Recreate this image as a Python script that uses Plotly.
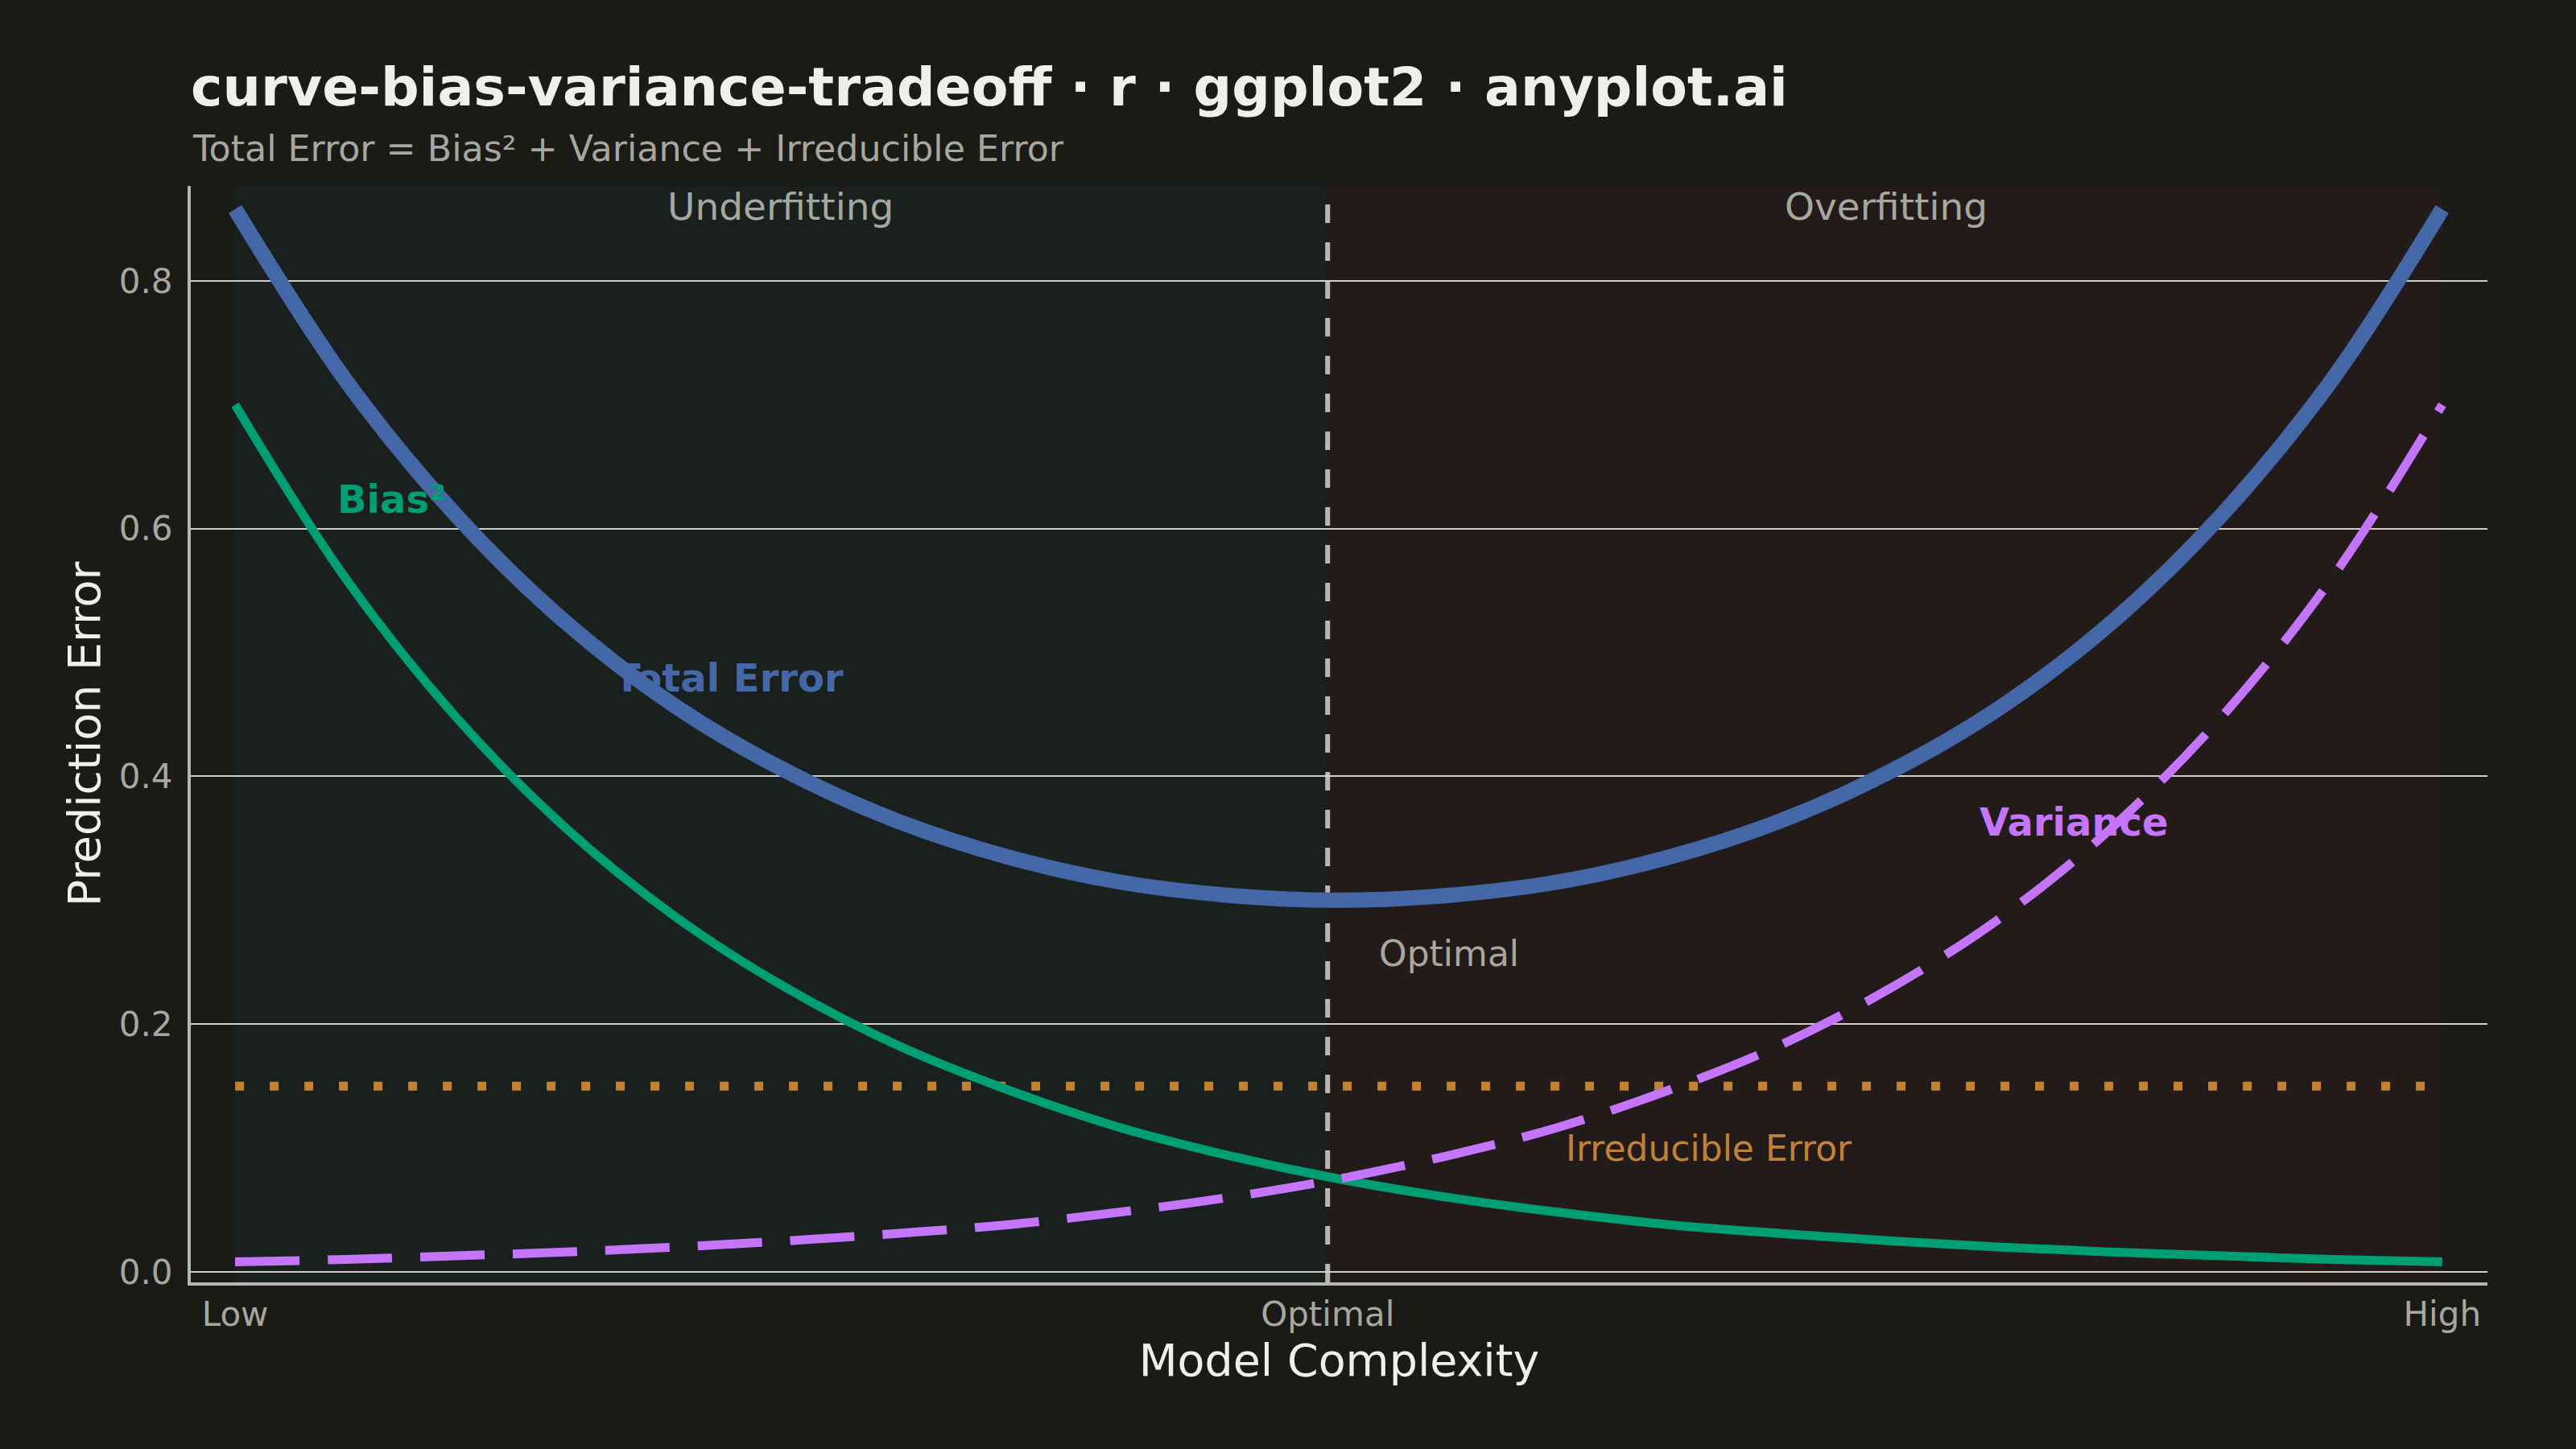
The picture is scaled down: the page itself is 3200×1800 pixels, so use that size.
import plotly.graph_objects as go

# model complexity, 0 = Low, 1 = High; the optimum sits just left of the middle
complexity = [0.00, 0.05, 0.10, 0.15, 0.20, 0.25, 0.30, 0.35, 0.40, 0.45, 0.50,
              0.55, 0.60, 0.65, 0.70, 0.75, 0.80, 0.85, 0.90, 0.95, 1.00]

bias_sq = [0.700, 0.560, 0.448, 0.358, 0.286, 0.229, 0.183, 0.147, 0.117, 0.094, 0.075,
           0.060, 0.048, 0.038, 0.031, 0.025, 0.020, 0.016, 0.013, 0.010, 0.008]

variance = [0.008, 0.010, 0.013, 0.016, 0.020, 0.025, 0.031, 0.038, 0.048, 0.060, 0.075,
            0.094, 0.117, 0.147, 0.183, 0.229, 0.286, 0.358, 0.448, 0.560, 0.700]

total_error = [0.858, 0.720, 0.611, 0.524, 0.456, 0.404, 0.364, 0.335, 0.315, 0.304, 0.300,
               0.304, 0.315, 0.335, 0.364, 0.404, 0.456, 0.524, 0.611, 0.720, 0.858]

irr_x = [0.0, 1.0]
irr_y = [0.15, 0.15]

optimal_x = 0.495

tick_vals = [0.0, optimal_x, 1.0]
tick_text = ["Low", "Optimal", "High"]

BG = "#1A1A17"
INK = "#F0EFE8"
INK_SOFT = "#A8A79F"
BLUE = "#4467A8"
GREEN = "#009E73"
PURPLE = "#C475FB"
ORANGE = "#C28236"
FONT = "DejaVu Sans"

fig = go.Figure()

fig.add_trace(go.Scatter(x=irr_x, y=irr_y, mode="lines",
                         line=dict(color=ORANGE, width=11, dash="11px,32px")))
fig.add_trace(go.Scatter(x=complexity, y=bias_sq, mode="lines",
                         line=dict(color=GREEN, width=11, shape="spline")))
fig.add_trace(go.Scatter(x=complexity, y=variance, mode="lines",
                         line=dict(color=PURPLE, width=11, shape="spline", dash="80px,35px")))
fig.add_trace(go.Scatter(x=complexity, y=total_error, mode="lines",
                         line=dict(color=BLUE, width=19, shape="spline")))

# shaded regions and optimal line
fig.add_shape(type="rect", xref="x", yref="paper", x0=0, x1=optimal_x, y0=0, y1=1,
              fillcolor="#1A201D", line_width=0, layer="below")
fig.add_shape(type="rect", xref="x", yref="paper", x0=optimal_x, x1=1, y0=0, y1=1,
              fillcolor="#231B1A", line_width=0, layer="below")
fig.add_shape(type="line", xref="x", yref="paper", x0=optimal_x, x1=optimal_x, y0=0, y1=1,
              line=dict(color="#BAB9B1", width=6, dash="23px,24px"), layer="between")

labels = [
    ("Underfitting", 0.247, 0.860, INK_SOFT, False, "center", 47),
    ("Overfitting", 0.748, 0.860, INK_SOFT, False, "center", 47),
    ("Bias²", 0.0456, 0.624, GREEN, True, "left", 48),
    ("Total Error", 0.2236, 0.4796, BLUE, True, "center", 48),
    ("Variance", 0.8333, 0.363, PURPLE, True, "center", 48),
    ("Optimal", 0.5175, 0.257, INK_SOFT, False, "left", 44),
    ("Irreducible Error", 0.602, 0.0995, ORANGE, False, "left", 44),
]
for text, lx, ly, col, bold, anchor, size in labels:
    fig.add_annotation(x=lx, y=ly, xref="x", yref="y", showarrow=False,
                       text="<b>%s</b>" % text if bold else text,
                       xanchor=anchor, yanchor="middle",
                       font=dict(family=FONT, size=size, color=col))

fig.add_annotation(x=0, y=1.0345, xref="paper", yref="paper", showarrow=False,
                   text="Total Error = Bias² + Variance + Irreducible Error",
                   xanchor="left", yanchor="middle",
                   font=dict(family=FONT, size=44.3, color=INK_SOFT))

fig.update_layout(
    width=3200, height=1800,
    paper_bgcolor=BG, plot_bgcolor=BG,
    showlegend=False,
    margin=dict(l=237, r=110, t=231, b=207),
    title=dict(text="<b>curve-bias-variance-tradeoff · r · ggplot2 · anyplot.ai</b>",
               x=0, xref="paper", xanchor="left",
               y=1 - 108 / 1800, yref="container", yanchor="middle",
               font=dict(family=FONT, size=66.6, color=INK)),
    font=dict(family=FONT, color=INK_SOFT),
)

fig.update_xaxes(range=[-0.0201, 1.0205], tickvals=tick_vals, ticktext=tick_text,
                 showgrid=False, zeroline=False, showline=True, linecolor="#B8B7AF",
                 linewidth=4, ticks="", ticklabelstandoff=0,
                 tickfont=dict(family=FONT, size=42, color=INK_SOFT),
                 title=dict(text="Model Complexity", standoff=12,
                            font=dict(family=FONT, size=55.5, color=INK)))
fig.update_yaxes(range=[-0.0085, 0.8767], tickvals=[0, 0.2, 0.4, 0.6, 0.8],
                 tickformat=".1f", showgrid=True, gridcolor="#CFCDC5", gridwidth=2,
                 zeroline=False, showline=True, linecolor="#B8B7AF", linewidth=4,
                 ticks="", ticklabelstandoff=10,
                 tickfont=dict(family=FONT, size=42, color=INK_SOFT),
                 title=dict(text="Prediction Error", standoff=6,
                            font=dict(family=FONT, size=55.5, color=INK)))

fig.write_html("out.html", config={"displayModeBar": False},
               post_script="document.body.style.margin = '0';")
